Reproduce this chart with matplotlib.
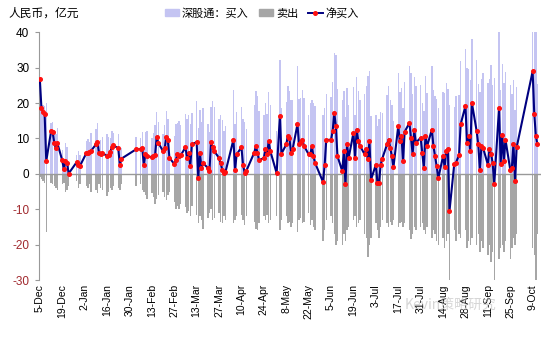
import numpy as np
import pandas as pd
import matplotlib
matplotlib.use("Agg")
import matplotlib.pyplot as plt
from matplotlib.patches import Patch
from matplotlib.lines import Line2D

plt.rcParams['font.family'] = ['Liberation Sans', 'Noto Sans CJK SC', 'DejaVu Sans']

# trading days of the connect (holidays removed)
holidays = ['2016-12-26', '2016-12-27', '2017-01-02', '2017-01-26', '2017-01-27',
            '2017-01-30', '2017-01-31', '2017-02-01', '2017-02-02', '2017-04-03',
            '2017-04-04', '2017-04-14', '2017-04-17', '2017-05-01', '2017-05-03',
            '2017-05-29', '2017-05-30', '2017-08-23', '2017-10-02', '2017-10-03',
            '2017-10-04', '2017-10-05', '2017-10-06']
days = pd.bdate_range('2016-12-05', '2017-10-12')
days = days[~days.isin(pd.to_datetime(holidays))]

# net buy, 亿元
net = [26.7, 18.5, 17.5, 16.8, 3.6, 12.0, 11.8, 8.8, 7.2, 8.6, 3.8, 1.3, 3.6, 3.2, 0.1, 3.3, 2.6, 2.2,  # Dec
       5.8, 5.9, 6.1, 6.5, 8.3, 9.0, 5.8, 5.6, 6.0, 5.0, 5.3, 6.2, 7.5, 8.1, 7.2, 2.6, 4.3,  # Jan
       6.9, 7.0, 7.2, 2.5, 5.7, 5.0, 4.7, 5.0, 5.2, 10.4, 8.8, 6.4, 7.2, 10.4, 9.5, 4.5, 2.8, 4.0,  # Feb
       5.5, 5.0, 5.2, 7.5, 4.5, 6.0, 2.2, 8.3, 9.0, -1.1, 6.0, 1.7, 3.0, 1.7, 0.9, 9.0, 7.5, 6.4,
       4.5, 3.0, 1.2, 0.2, 0.5,  # Mar
       9.7, 1.2, 5.5, 7.5, 2.5, 0.3, 0.8, 6.0, 7.8, 6.0, 3.8, 4.5, 6.9, 5.5, 9.2, 6.5,  # Apr
       0.2, 16.3, 5.7, 8.3, 10.7, 10.0, 6.0, 7.0, 14.0, 8.3, 9.0, 9.7, 8.0, 5.5, 5.5, 7.8, 5.0,
       3.1, -2.3,  # May
       2.5, 9.5, 9.7, 12.0, 17.3, 13.5, 5.0, 0.8, 6.4, -3.0, 8.3, 4.5, 11.6, 4.5, 12.5, 9.4, 8.0,
       5.5, 6.9, 4.1, 9.2, -1.6,  # Jun
       2.6, -2.5, -2.5, 2.6, 4.3, 8.3, 9.7, 7.4, 5.0, 1.9, 13.5, 9.2, 10.7, 3.6, 11.9, 14.4, 10.0,
       5.5, 12.3, 8.8, 10.2,  # Jul
       6.0, 1.7, 10.7, 7.8, 12.5, 7.8, 5.0, 2.2, -1.3, 5.0, 1.9, 6.6, 7.0, -10.6, 2.8, 3.1, 5.3,
       14.0, 19.2, 8.8, 10.7, 6.4,  # Aug
       20.1, 12.1, 8.3, 1.2, 7.8, 7.4, 2.6, 6.9, 5.7, 3.1, -3.0, 18.7, 2.8, 11.1, 3.6, 9.7, 1.2,
       1.7, 8.5, -1.9, 7.5,  # Sep
       29.0, 17.0, 10.7, 8.3]  # Oct

# sell, 亿元
sell = [-0.8, -1.5, -2.0, -2.5, -16.5, -2.5, -3.0, -3.5, -4.0, -4.5, -3.0, -2.5, -5.0, -4.5, -3.5,
        -2.0, -4.0, -3.0,
        -3.5, -4.0, -3.0, -5.0, -4.5, -5.5, -3.0, -4.0, -4.5, -6.3, -5.0, -4.0, -4.5, -3.5, -4.0,
        -4.5, -3.0,
        -3.5, -3.0, -4.5, -5.0, -6.0, -7.0, -5.5, -6.5, -8.5, -7.0, -6.0, -5.0, -6.5, -7.5, -6.0,
        -5.0, -8.0, -10.0,
        -9.0, -10.0, -8.5, -9.5, -11.0, -10.5, -12.0, -9.0, -11.5, -14.0, -12.0, -13.0, -15.5,
        -12.5, -11.0, -10.0, -13.0, -12.5, -11.0, -13.5, -14.0, -12.0, -13.0,
        -14.0, -13.0, -12.0, -11.5, -13.0, -14.5, -12.0, -13.5, -15.5, -16.0, -14.0, -12.0, -13.0,
        -11.5, -14.0, -13.0,
        -12.0, -16.0, -13.0, -12.0, -14.0, -13.5, -15.0, -14.0, -16.5, -13.0, -12.5, -14.0, -13.5,
        -11.0, -14.5, -13.0, -15.0, -16.0, -19.0,
        -16.0, -13.0, -12.0, -14.0, -17.0, -20.0, -19.0, -20.0, -17.0, -19.0, -16.0, -15.0, -13.0,
        -12.0, -15.0, -14.0, -13.0, -17.0, -18.0, -23.5, -20.0, -18.0,
        -14.0, -16.0, -18.0, -15.0, -13.0, -14.0, -15.0, -13.5, -14.5, -13.0, -15.0, -14.0, -13.5,
        -15.0, -14.0, -16.0, -18.5, -17.0, -15.0, -16.0, -15.0,
        -14.0, -16.0, -17.0, -15.0, -18.0, -16.0, -17.0, -19.0, -20.0, -18.0, -21.0, -19.0, -17.0,
        -30.0, -16.0, -19.0, -17.0, -18.0, -16.0, -21.0, -19.0, -20.0,
        -18.0, -20.0, -17.0, -22.0, -19.0, -21.0, -23.0, -20.0, -25.0, -22.0, -30.0, -24.0, -21.0,
        -20.0, -22.0, -19.0, -24.0, -21.0, -18.0, -20.0, -17.0,
        -21.0, -23.0, -30.0, -17.0]

net = np.array(net)
sell = np.array(sell)
buy = net - sell

tick_dates = pd.date_range('2016-12-05', '2017-10-09', freq='14D')
tick_labels = [f"{d.day}-{d.strftime('%b')}" for d in tick_dates]

fig = plt.figure(figsize=(5.5, 3.44), dpi=100)
ax = fig.add_axes([0.071, 0.186, 0.912, 0.72])

ax.bar(days, buy, width=0.9, color='#C4C4F2', linewidth=0)
ax.bar(days, sell, width=0.9, color='#A6A6A6', linewidth=0)
ax.axhline(0, color='#999999', lw=1.0)
ax.plot(days, net, color='#000080', lw=1.5, marker='o', ms=2.6,
        mfc='#FF1010', mec='#FF1010', zorder=3)

ax.set_ylim(-30, 40)
ax.set_xlim(pd.Timestamp('2016-12-04 12:00'), pd.Timestamp('2017-10-14'))
ax.set_yticks(range(-30, 41, 10))
ax.set_yticklabels([str(v) for v in range(-30, 41, 10)], fontsize=8.5)
for lab, v in zip(ax.get_yticklabels(), range(-30, 41, 10)):
    if v < 0:
        lab.set_color('#A0282D')
ax.set_xticks(tick_dates)
ax.set_xticklabels(tick_labels, rotation=90, fontsize=7.5)
ax.tick_params(axis='x', length=0, pad=3)
ax.tick_params(axis='y', length=3, color='#999999', pad=4)
for s in ['top', 'right', 'bottom']:
    ax.spines[s].set_visible(False)
ax.spines['left'].set_color('#999999')

fig.text(0.015, 0.962, '人民币，亿元', fontsize=8.5, va='center',
         family=['Noto Sans CJK SC', 'DejaVu Sans'])

handles = [Patch(color='#C4C4F2'), Patch(color='#A6A6A6'),
           Line2D([], [], color='#000080', lw=1.4, marker='o', ms=2.6, mfc='#FF1010', mec='#FF1010')]
leg = fig.legend(handles, ['深股通：买入', '卖出', '净买入'], loc='center',
                 bbox_to_anchor=(0.476, 0.962), ncol=3, frameon=False,
                 prop={'family': ['Noto Sans CJK SC', 'DejaVu Sans'], 'size': 8},
                 handlelength=1.3, handleheight=0.6, handletextpad=0.25, columnspacing=0.9)

fig.text(0.82, 0.115, 'Kevin策略研究', fontsize=10, color='#BBBBBB', alpha=0.6,
         ha='center', va='center', family=['Noto Sans CJK SC', 'DejaVu Sans'])

fig.savefig('out.png', dpi=100)
